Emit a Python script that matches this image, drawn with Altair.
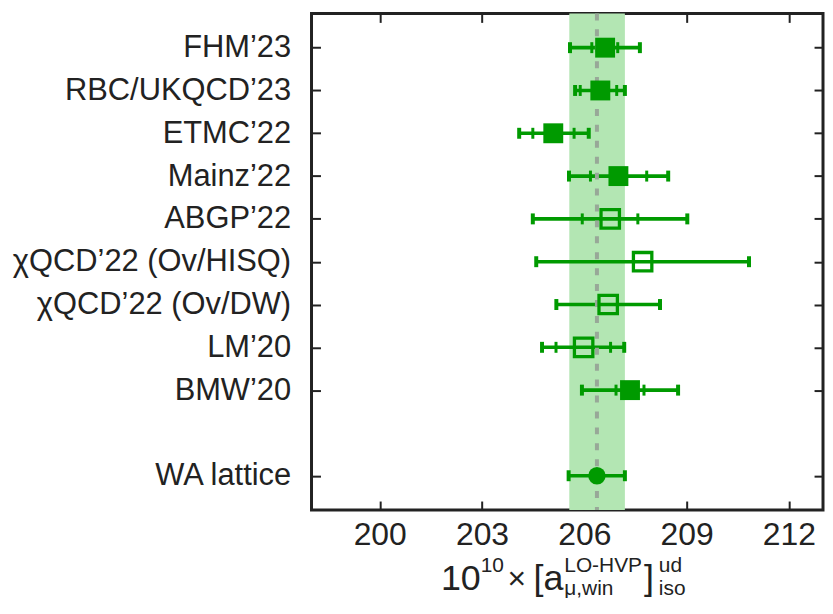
import json
import altair as alt
import pandas as pd

# ---------------- data ----------------
labels = ["FHM’23", "RBC/UKQCD’23", "ETMC’22", "Mainz’22", "ABGP’22",
          "χQCD’22 (Ov/HISQ)", "χQCD’22 (Ov/DW)", "LM’20", "BMW’20", "WA lattice"]
rows = [10, 9, 8, 7, 6, 5, 4, 3, 2, 0]
central = [206.61, 206.47, 205.09, 207.00, 206.76, 207.71, 206.70, 205.98, 207.34, 206.37]
tot_lo = [205.58, 205.73, 204.09, 205.55, 204.49, 204.59, 205.18, 204.76, 205.93, 205.54]
tot_hi = [207.63, 207.19, 206.13, 208.46, 209.02, 210.83, 208.22, 207.17, 208.75, 207.19]
stat_lo = [206.22, 205.88, 204.49, 206.18, 205.94, None, None, 205.17, 206.93, None]
stat_hi = [206.98, 206.95, 205.70, 207.83, 207.57, None, None, 206.77, 207.75, None]
symbols = ["filled", "filled", "filled", "filled", "open", "open", "open", "open", "filled", "circle"]

band_lo, band_hi, band_mid = 205.56, 207.19, 206.37
x_ticks = [200, 203, 206, 209, 212]
x_domain = [198, 213]
y_domain = [-0.8, 10.8]

GREEN = "#009a00"
INK = "#222222"

df = pd.DataFrame({"label": labels, "row": rows, "c": central,
                   "lo": tot_lo, "hi": tot_hi, "symbol": symbols})
caps_outer_df = pd.DataFrame({"x": tot_lo + tot_hi, "row": rows + rows})
inner = [(r, v) for r, a, b in zip(rows, stat_lo, stat_hi) for v in (a, b) if v is not None]
caps_inner_df = pd.DataFrame({"row": [r for r, _ in inner], "x": [v for _, v in inner]})
band_df = pd.DataFrame({"lo": [band_lo], "hi": [band_hi], "mid": [band_mid]})

lookup = [""] * (max(rows) + 1)
for r, l in zip(rows, labels):
    lookup[r] = l
label_expr = json.dumps(lookup, ensure_ascii=False) + "[datum.value]"

xs = alt.Scale(domain=x_domain, nice=False, zero=False)
ys = alt.Scale(domain=y_domain, nice=False, zero=False)

common_axis = dict(title=None, grid=False, domain=False, offset=-9, tickSize=9,
                   tickWidth=2, tickColor=INK, labelColor=INK, labelFont="Liberation Sans")

bottom_axis = alt.Axis(orient="bottom", values=x_ticks, labelFontSize=32,
                       labelPadding=10, **common_axis)
top_axis = alt.Axis(orient="top", values=x_ticks, labels=False, **common_axis)
left_axis = alt.Axis(orient="left", values=rows, labelExpr=label_expr,
                     labelFontSize=31, labelPadding=21, labelLimit=400, **common_axis)
right_axis = alt.Axis(orient="right", values=rows, labels=False, **common_axis)

band = alt.Chart(band_df).mark_rect(color="#b3e6b3").encode(
    x=alt.X("lo:Q", scale=xs, axis=None), x2="hi")

bars = alt.Chart(df).mark_rule(color=GREEN, strokeWidth=3.6).encode(
    x=alt.X("lo:Q", scale=xs, axis=bottom_axis), x2="hi",
    y=alt.Y("row:Q", scale=ys, axis=left_axis))

dash = alt.Chart(band_df).mark_rule(color="#98a898", strokeWidth=4, strokeDash=[7, 9]).encode(
    x=alt.X("mid:Q", scale=xs, axis=None))

caps_outer = alt.Chart(caps_outer_df).mark_tick(
    color=GREEN, orient="vertical", size=11, thickness=4, opacity=1).encode(
    x=alt.X("x:Q", scale=xs, axis=top_axis),
    y=alt.Y("row:Q", scale=ys, axis=right_axis))

caps_inner = alt.Chart(caps_inner_df).mark_tick(
    color=GREEN, orient="vertical", size=11, thickness=3, opacity=1).encode(
    x=alt.X("x:Q", scale=xs, axis=None),
    y=alt.Y("row:Q", scale=ys, axis=None))

filled_sq = alt.Chart(df).transform_filter(alt.datum.symbol == "filled").mark_point(
    shape="square", filled=True, size=400, color=GREEN, opacity=1).encode(
    x=alt.X("c:Q", scale=xs, axis=None), y=alt.Y("row:Q", scale=ys, axis=None))

open_sq = alt.Chart(df).transform_filter(alt.datum.symbol == "open").mark_point(
    shape="square", filled=False, size=342, strokeWidth=3.3, color=GREEN, opacity=1).encode(
    x=alt.X("c:Q", scale=xs, axis=None), y=alt.Y("row:Q", scale=ys, axis=None))

circ = alt.Chart(df).transform_filter(alt.datum.symbol == "circle").mark_point(
    shape="circle", filled=True, size=306, color=GREEN, opacity=1).encode(
    x=alt.X("c:Q", scale=xs, axis=None), y=alt.Y("row:Q", scale=ys, axis=None))

# ---------------- axis title as rich text pieces ----------------
one = pd.DataFrame({"a": [0]})
def piece(text, x, y, size):
    return alt.Chart(one).mark_text(
        align="left", baseline="alphabetic", font="Liberation Sans",
        fontSize=size, color=INK).encode(
        x=alt.value(x), y=alt.value(y), text=alt.value(text))

title_layers = [
    piece("10", 130, 579, 36),
    piece("10", 170, 561, 21),
    piece("×", 197, 578, 32),
    piece("[a", 223, 579, 36),
    piece("LO-HVP", 254, 561, 21),
    piece("μ,win", 254, 584, 21),
    piece("]", 334, 579, 36),
    piece("ud", 349, 561, 21),
    piece("iso", 349, 584, 21),
]

chart = alt.layer(band, bars, dash, caps_outer, caps_inner, filled_sq, open_sq, circ,
                  *title_layers).resolve_axis(
    x="independent", y="independent").properties(
    width=514, height=499,
    padding={"left": 305, "top": 4, "right": 2, "bottom": 87},
    autosize=alt.AutoSizeParams(type="none"),
).configure_view(stroke=INK, strokeWidth=3)

chart.save("out.html", embed_options={"renderer": "svg", "actions": False})
